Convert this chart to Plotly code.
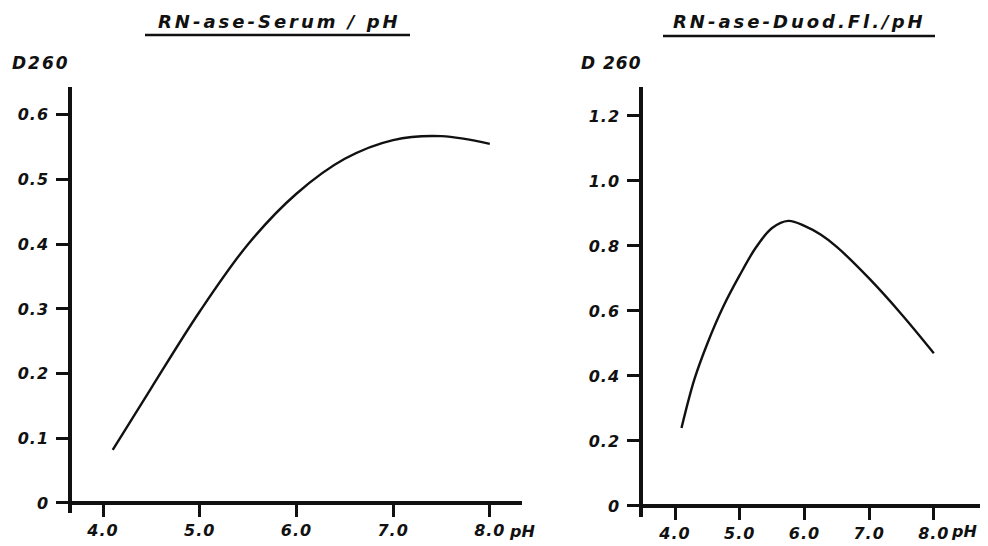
import plotly.graph_objects as go

# ---- data ----
serum_ph = [4.1, 4.5, 5.0, 5.5, 6.0, 6.5, 7.0, 7.5, 8.0]
serum_d260 = [0.082, 0.178, 0.296, 0.40, 0.478, 0.532, 0.561, 0.567, 0.555]

duod_ph = [4.1, 4.3, 4.5, 4.75, 5.0, 5.25, 5.5, 5.75, 6.0, 6.25, 6.5, 7.0, 7.5, 8.0]
duod_d260 = [0.24, 0.39, 0.50, 0.615, 0.71, 0.795, 0.855, 0.877, 0.862, 0.835, 0.797, 0.70, 0.59, 0.47]

x_ticks = [4, 5, 6, 7, 8]
x_ticklabels = ["4.0", "5.0", "6.0", "7.0", "8.0"]
y1_ticks = [0, 0.1, 0.2, 0.3, 0.4, 0.5, 0.6]
y1_ticklabels = ["0", "0.1", "0.2", "0.3", "0.4", "0.5", "0.6"]
y2_ticks = [0, 0.2, 0.4, 0.6, 0.8, 1.0, 1.2]
y2_ticklabels = ["0", "0.2", "0.4", "0.6", "0.8", "1.0", "1.2"]

title_left = "RN-ase-Serum / pH"
title_right = "RN-ase-Duod.Fl./pH"
ylabel_left = "D260"
ylabel_right = "D 260"
xunit = "pH"

# ---- layout helpers (page has an 8px body margin) ----
OFF = 8
W, H = 988 - OFF, 546 - OFF
FONT = "DejaVu Sans"
INK = "#111111"


def px(x):
    return (x - OFF) / W


def py(y):
    return 1 - (y - OFF) / H


def spaced(t, ls):
    return f'<span style="letter-spacing:{ls}px">{t}</span>'


tickfont = dict(family=FONT, size=16, color=INK, style="italic", weight="bold")

fig = go.Figure()
fig.add_trace(go.Scatter(x=serum_ph, y=serum_d260, mode="lines",
                         line=dict(color=INK, width=2.4, shape="spline", smoothing=1.0),
                         xaxis="x", yaxis="y", showlegend=False, hoverinfo="skip"))
fig.add_trace(go.Scatter(x=duod_ph, y=duod_d260, mode="lines",
                         line=dict(color=INK, width=2.4, shape="spline", smoothing=1.0),
                         xaxis="x2", yaxis="y2", showlegend=False, hoverinfo="skip"))

common_x = dict(showline=True, linewidth=3.5, linecolor=INK, ticks="outside", ticklen=12,
                tickwidth=3, tickcolor=INK, showgrid=False, zeroline=False,
                tickfont=tickfont, automargin=False, fixedrange=True, anchor="free")
common_y = dict(showline=True, linewidth=3.5, linecolor=INK, ticks="outside", ticklen=12,
                tickwidth=3, tickcolor=INK, showgrid=False, zeroline=False,
                tickfont=tickfont, automargin=False, fixedrange=True, ticklabelstandoff=4)

fig.update_layout(
    width=W, height=H,
    margin=dict(l=0, r=0, t=0, b=0),
    paper_bgcolor="white", plot_bgcolor="white",
    xaxis=dict(domain=[px(72), px(522)], range=[3.679, 8.333], position=py(503),
               tickvals=x_ticks, ticktext=[spaced(t, 1) for t in x_ticklabels], **common_x),
    yaxis=dict(domain=[py(513), py(87)], range=[-0.0155, 0.643], anchor="x",
               tickvals=y1_ticks, ticktext=[spaced(t, 1) for t in y1_ticklabels], **common_y),
    xaxis2=dict(domain=[px(643), px(983)], range=[3.505, 8.76], position=py(506),
                tickvals=x_ticks, ticktext=[spaced(t, 1) for t in x_ticklabels], **common_x),
    yaxis2=dict(domain=[py(517), py(87)], range=[-0.034, 1.289], anchor="x2",
                tickvals=y2_ticks, ticktext=[spaced(t, 1) for t in y2_ticklabels], **common_y),
)

titlefont = dict(family=FONT, size=18, color=INK, style="italic", weight="bold")
labfont = dict(family=FONT, size=17, color=INK, style="italic", weight="bold")

annots = [
    dict(text=spaced(title_left, 3), x=px(279), y=py(21), font=titlefont),
    dict(text=spaced(title_right, 3), x=px(799), y=py(22), font=titlefont),
    dict(text=spaced(ylabel_left, 2), x=px(41), y=py(63), font=labfont),
    dict(text=spaced(ylabel_right, 1), x=px(611), y=py(63), font=labfont),
    dict(text=xunit, x=px(522), y=py(531), font=tickfont),
    dict(text=xunit, x=px(964), y=py(531), font=tickfont),
]
for a in annots:
    fig.add_annotation(xref="paper", yref="paper", showarrow=False,
                       xanchor="center", yanchor="middle", **a)

# title underlines
for x0, x1, y in [(145, 410, 35), (663, 935, 36)]:
    fig.add_shape(type="line", xref="paper", yref="paper",
                  x0=px(x0), x1=px(x1), y0=py(y), y1=py(y),
                  line=dict(color=INK, width=2.5))

fig.write_html(
    "out.html",
    post_script="document.documentElement.style.overflow='hidden';"
                "document.body.style.overflow='hidden';",
)
